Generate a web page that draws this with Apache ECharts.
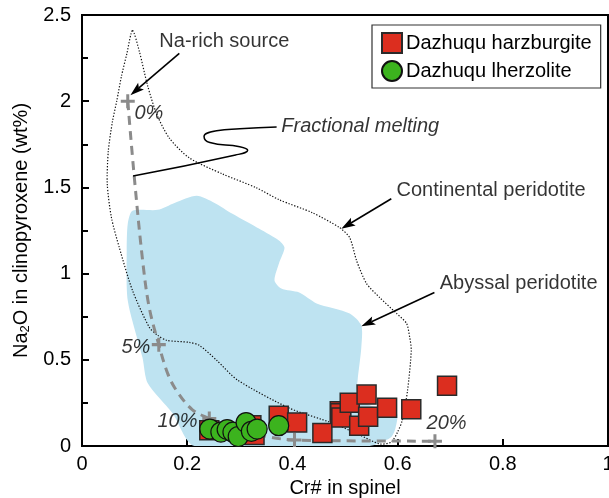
<!DOCTYPE html>
<html>
<head>
<meta charset="utf-8">
<script src="https://cdn.jsdelivr.net/npm/echarts@6/dist/echarts.min.js"></script>
<style>
  html, body { margin: 0; padding: 0; background: #fff; overflow: hidden; }
  #chart { width: 609px; height: 498px; }
</style>
</head>
<body>
<div id="chart"></div>
<script>
// Dazhuqu peridotites: Cr# in spinel vs Na2O in clinopyroxene (wt%)
const harzCr = [0.242, 0.322, 0.328, 0.374, 0.409, 0.457, 0.490, 0.491, 0.493, 0.509, 0.527, 0.541, 0.544, 0.580, 0.626, 0.694];
const harzNa = [0.092, 0.121, 0.064, 0.175, 0.136, 0.076, 0.202, 0.190, 0.165, 0.251, 0.117, 0.298, 0.170, 0.222, 0.213, 0.349];
const lherzCr = [0.243, 0.264, 0.276, 0.287, 0.297, 0.312, 0.322, 0.333, 0.374];
const lherzNa = [0.098, 0.081, 0.095, 0.080, 0.055, 0.136, 0.085, 0.098, 0.118];

// Abyssal peridotite field
const abyssalCr = [0.096, 0.144, 0.176, 0.218, 0.252, 0.286, 0.337, 0.375, 0.385, 0.375, 0.366, 0.379, 0.413, 0.446, 0.509, 0.531, 0.531, 0.524, 0.522, 0.547, 0.598, 0.596, 0.588, 0.566, 0.547, 0.214, 0.172, 0.125, 0.115, 0.087, 0.085, 0.087];
const abyssalNa = [1.364, 1.370, 1.410, 1.451, 1.410, 1.347, 1.260, 1.191, 1.150, 1.064, 0.960, 0.913, 0.890, 0.827, 0.769, 0.699, 0.572, 0.382, 0.283, 0.237, 0.191, 0.104, 0.052, 0.017, 0.000, 0.000, 0.191, 0.364, 0.514, 0.844, 1.133, 1.289];

// Continental peridotite field
const contCr = [0.096, 0.109, 0.125, 0.142, 0.166, 0.204, 0.267, 0.332, 0.375, 0.438, 0.490, 0.509, 0.522, 0.541, 0.566, 0.598, 0.617, 0.623, 0.626, 0.619, 0.609, 0.600, 0.588, 0.566, 0.528, 0.476, 0.394, 0.296, 0.256, 0.223, 0.204, 0.161, 0.144, 0.128, 0.096, 0.071, 0.056, 0.048, 0.050, 0.058, 0.066, 0.075, 0.085];
const contNa = [2.410, 2.289, 2.087, 1.925, 1.786, 1.671, 1.578, 1.497, 1.428, 1.353, 1.266, 1.208, 1.075, 0.942, 0.861, 0.769, 0.711, 0.630, 0.555, 0.324, 0.150, 0.081, 0.023, 0.012, 0.064, 0.133, 0.220, 0.382, 0.497, 0.584, 0.601, 0.613, 0.642, 0.688, 0.902, 1.150, 1.324, 1.520, 1.711, 1.884, 2.000, 2.145, 2.272];

// Fractional melting trend of a Na-rich source
const meltCr = [0.087, 0.100, 0.116, 0.128, 0.146, 0.163, 0.180, 0.210, 0.242, 0.280, 0.356, 0.404, 0.500, 0.671];
const meltNa = [2.000, 1.540, 1.056, 0.800, 0.588, 0.420, 0.320, 0.210, 0.160, 0.110, 0.052, 0.035, 0.030, 0.028];
// Melting-degree steps along the trend (0%, 5%, 10%, 15%, 20%)
const stepCr = [0.087, 0.146, 0.242, 0.404, 0.671];
const stepNa = [2.000, 0.588, 0.160, 0.035, 0.028];

// S-shaped leader from the "Fractional melting" label to the trend
const leaderCr = [0.370, 0.300, 0.256, 0.232, 0.243, 0.300, 0.315, 0.292, 0.097];
const leaderNa = [1.850, 1.840, 1.828, 1.795, 1.760, 1.736, 1.715, 1.688, 1.566];

// Arrows: start and tip
const arrowFromCr = [0.185, 0.588, 0.670];
const arrowFromNa = [2.277, 1.434, 0.890];
const arrowToCr = [0.092, 0.493, 0.531];
const arrowToNa = [2.035, 1.260, 0.694];

// Annotation texts, anchored at their left edge
const noteText = ['Na-rich source', 'Fractional melting', 'Continental peridotite', 'Abyssal peridotite', '0%', '5%', '10%', '20%'];
const noteCr = [0.147, 0.379, 0.598, 0.680, 0.0998, 0.075, 0.1435, 0.655];
const noteNa = [2.347, 1.855, 1.480, 0.942, 1.931, 0.572, 0.145, 0.133];
const noteItalic = [false, true, false, false, true, true, true, true];

const FONT = 'Liberation Sans, Arial, Helvetica, sans-serif';
const FS = 20;
const zip = (xs, ys) => xs.map((x, i) => [x, ys[i]]);

function fieldSeries(xs, ys, style, z) {
  return {
    type: 'custom',
    silent: true,
    z: z,
    clip: true,
    data: [[xs[0], ys[0]]],
    renderItem: (params, api) => ({
      type: 'polygon',
      shape: { points: xs.map((x, i) => api.coord([x, ys[i]])), smooth: 0.25 },
      style: style
    })
  };
}

// Straight arrow with a slim filled head
function arrowItem(params, api) {
  const a = api.coord([api.value(0), api.value(1)]);
  const b = api.coord([api.value(2), api.value(3)]);
  const dx = b[0] - a[0], dy = b[1] - a[1];
  const len = Math.sqrt(dx * dx + dy * dy);
  const ux = dx / len, uy = dy / len;
  const headLen = 14, headHalf = 4.5;
  const base = [b[0] - ux * headLen, b[1] - uy * headLen];
  const left = [base[0] - uy * headHalf, base[1] + ux * headHalf];
  const right = [base[0] + uy * headHalf, base[1] - ux * headHalf];
  const notch = [b[0] - ux * headLen * 0.8, b[1] - uy * headLen * 0.8];
  return {
    type: 'group',
    children: [
      { type: 'line', shape: { x1: a[0], y1: a[1], x2: notch[0], y2: notch[1] }, style: { stroke: '#000', lineWidth: 1.6 } },
      { type: 'polygon', shape: { points: [b, left, notch, right] }, style: { fill: '#000' } }
    ]
  };
}

const chart = echarts.init(document.getElementById('chart'), null, { renderer: 'canvas' });

chart.setOption({
  animation: false,
  backgroundColor: '#fff',
  textStyle: { fontFamily: FONT },
  grid: {
    left: 82, right: 1, top: 15, bottom: 52,
    outerBoundsMode: 'none',
    containLabel: false,
    show: true, borderColor: '#000', borderWidth: 2, backgroundColor: 'transparent'
  },
  legend: {
    orient: 'vertical',
    left: 372, top: 25,
    padding: [7, 9, 6, 9],
    itemGap: 6,
    itemWidth: 20, itemHeight: 20,
    backgroundColor: '#fff',
    borderColor: '#333', borderWidth: 1.2,
    textStyle: { fontSize: FS, color: '#000', fontFamily: FONT, padding: [0, 0, 0, -1] },
    data: ['Dazhuqu harzburgite', 'Dazhuqu lherzolite']
  },
  xAxis: {
    type: 'value', min: 0, max: 1, interval: 0.2,
    name: 'Cr# in spinel', nameLocation: 'middle', nameGap: 30,
    nameTextStyle: { fontSize: FS, color: '#000', fontFamily: FONT },
    axisLine: { show: true, onZero: false, lineStyle: { color: '#000', width: 2 } },
    axisTick: { show: true, inside: true, length: 7, lineStyle: { color: '#000', width: 2 } },
    axisLabel: { fontSize: FS, color: '#000', margin: 8, fontFamily: FONT },
    splitLine: { show: false }
  },
  yAxis: {
    type: 'value', min: 0, max: 2.5, interval: 0.5,
    name: '{a|Na}{s|2}{a|O in clinopyroxene (wt%)}',
    nameLocation: 'middle', nameGap: 49,
    nameTextStyle: {
      color: '#000', fontFamily: FONT,
      rich: {
        a: { fontSize: FS, color: '#000', fontFamily: FONT },
        s: { fontSize: 13, color: '#000', fontFamily: FONT, verticalAlign: 'bottom', padding: [8, 0, 0, 0] }
      }
    },
    axisLine: { show: true, onZero: false, lineStyle: { color: '#000', width: 2 } },
    axisTick: { show: true, inside: true, length: 7, lineStyle: { color: '#000', width: 2 } },
    minorTick: { show: true, splitNumber: 2, length: 6, lineStyle: { color: '#000', width: 2 } },
    axisLabel: { fontSize: FS, color: '#000', margin: 11, fontFamily: FONT },
    splitLine: { show: false }
  },
  series: [
    fieldSeries(abyssalCr, abyssalNa, { fill: '#bee3f1', stroke: null }, 1),
    fieldSeries(contCr, contNa, { fill: null, stroke: '#111', lineWidth: 1.2, lineDash: [1.3, 1.7] }, 2),
    {
      type: 'line', silent: true, z: 3,
      data: zip(meltCr, meltNa),
      smooth: 0.35, symbol: 'none',
      lineStyle: { color: '#8b8b8b', width: 3, type: [9, 6] }
    },
    {
      type: 'line', silent: true, z: 4,
      data: zip(leaderCr, leaderNa),
      smooth: 0.5, symbol: 'none',
      lineStyle: { color: '#000', width: 1.5 }
    },
    {
      type: 'custom', silent: true, z: 4, clip: false,
      data: arrowFromCr.map((x, i) => [x, arrowFromNa[i], arrowToCr[i], arrowToNa[i]]),
      renderItem: arrowItem
    },
    {
      name: 'Dazhuqu harzburgite',
      type: 'scatter', z: 5,
      data: zip(harzCr, harzNa),
      symbol: 'rect', symbolSize: 19,
      itemStyle: { color: '#dc2e1f', borderColor: '#2a2a2a', borderWidth: 1.5, opacity: 1 }
    },
    {
      type: 'scatter', silent: true, z: 6,
      data: zip(stepCr, stepNa),
      symbol: 'path://M0,5.1H13V7.9H0Z M5.1,0H7.9V13H5.1Z',
      symbolSize: 14,
      itemStyle: { color: '#8b8b8b', opacity: 1 }
    },
    {
      name: 'Dazhuqu lherzolite',
      type: 'scatter', z: 7,
      data: zip(lherzCr, lherzNa),
      symbol: 'circle', symbolSize: 20,
      itemStyle: { color: '#3cb31e', borderColor: '#111', borderWidth: 1.2, opacity: 1 }
    },
    {
      type: 'scatter', silent: true, z: 8,
      symbolSize: 0,
      data: noteText.map((t, i) => ({
        value: [noteCr[i], noteNa[i]],
        label: {
          show: true, formatter: t,
          position: [0, 0], align: 'left', verticalAlign: 'middle',
          fontSize: FS, color: '#000', fontFamily: FONT,
          fontStyle: noteItalic[i] ? 'italic' : 'normal'
        }
      }))
    }
  ]
});
</script>
</body>
</html>
